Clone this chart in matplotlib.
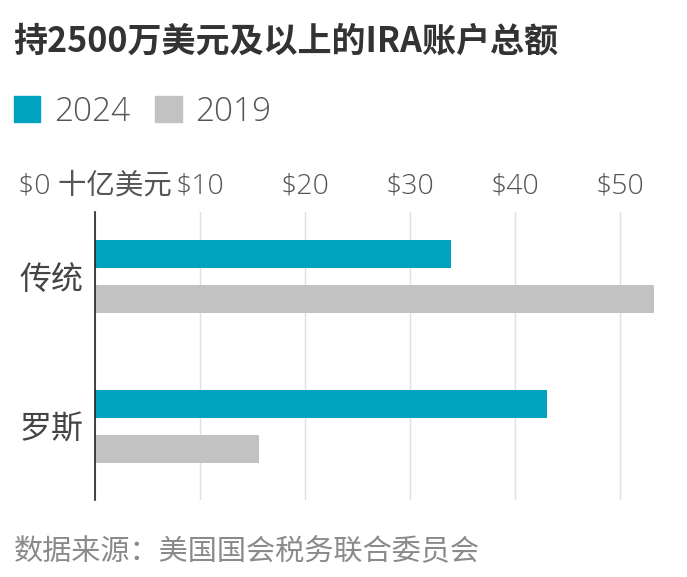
import numpy as np
import matplotlib.pyplot as plt
from matplotlib.patches import Patch

# data
categories = ["传统", "罗斯"]
years = ["2024", "2019"]
vals_2024 = [33.9, 43.0]
vals_2019 = [53.2, 15.6]
ticks = [0, 10, 20, 30, 40, 50]
tick_labels = ["$0 十亿美元", "$10", "$20", "$30", "$40", "$50"]

teal = "#00a3bf"
grey = "#c2c2c2"
fams = ["Open Sans", "Noto Sans CJK SC", "DejaVu Sans"]
plt.rcParams["font.family"] = fams

fig = plt.figure(figsize=(6.87, 5.77), dpi=100)
ax = fig.add_axes([0.1383, 0.1334, 0.841, 0.4992])

y = np.arange(len(categories))
off = 0.149
h = 0.187
ax.barh(y - off, vals_2024, height=h, color=teal, zorder=3)
ax.barh(y + off, vals_2019, height=h, color=grey, zorder=3)

ax.set_xlim(0, 55)
ax.set_ylim(1.493, -0.433)
ax.set_xticks(ticks)
ax.set_xticklabels(tick_labels)
ax.xaxis.tick_top()
ax.tick_params(axis="x", length=0, pad=8, labelsize=20.5, labelcolor="#555555")
ax.set_yticks(y)
ax.set_yticklabels(categories)
ax.tick_params(axis="y", length=0, pad=8, labelsize=23, labelcolor="#444444")
for lab in ax.get_xticklabels() + ax.get_yticklabels():
    lab.set_fontweight("light")

ax.grid(axis="x", color="#e0e0e0", linewidth=1, zorder=0)
ax.grid(axis="y", visible=False)
for s in ["top", "right", "bottom"]:
    ax.spines[s].set_visible(False)
ax.spines["left"].set_color("#222222")
ax.spines["left"].set_linewidth(1.2)
ax.spines["left"].set_zorder(4)

# title
fig.text(0.02, 0.929, "持2500万美元及以上的IRA账户总额", fontsize=24.5,
         fontweight="bold", color="#333333", va="center", ha="left",
         family=["Noto Sans CJK SC", "DejaVu Sans"])

# legend
handles = [Patch(color=teal), Patch(color=grey)]
leg = fig.legend(handles, years, loc="center left",
                 bbox_to_anchor=(0.02, 1 - 112 / 577), ncol=2, frameon=False,
                 fontsize=24, borderpad=0, borderaxespad=0, handlelength=0.8,
                 handleheight=0.8, handletextpad=0.4, columnspacing=0.75)
for t in leg.get_texts():
    t.set_color("#555555")
    t.set_fontweight("light")

# source
fig.text(0.02, 1 - 552 / 577, "数据来源：美国国会税务联合委员会", fontsize=21,
         color="#8a8a8a", va="center", ha="left", fontweight="light",
         family=["Noto Sans CJK SC", "DejaVu Sans"])

fig.savefig("out.png", dpi=100)
